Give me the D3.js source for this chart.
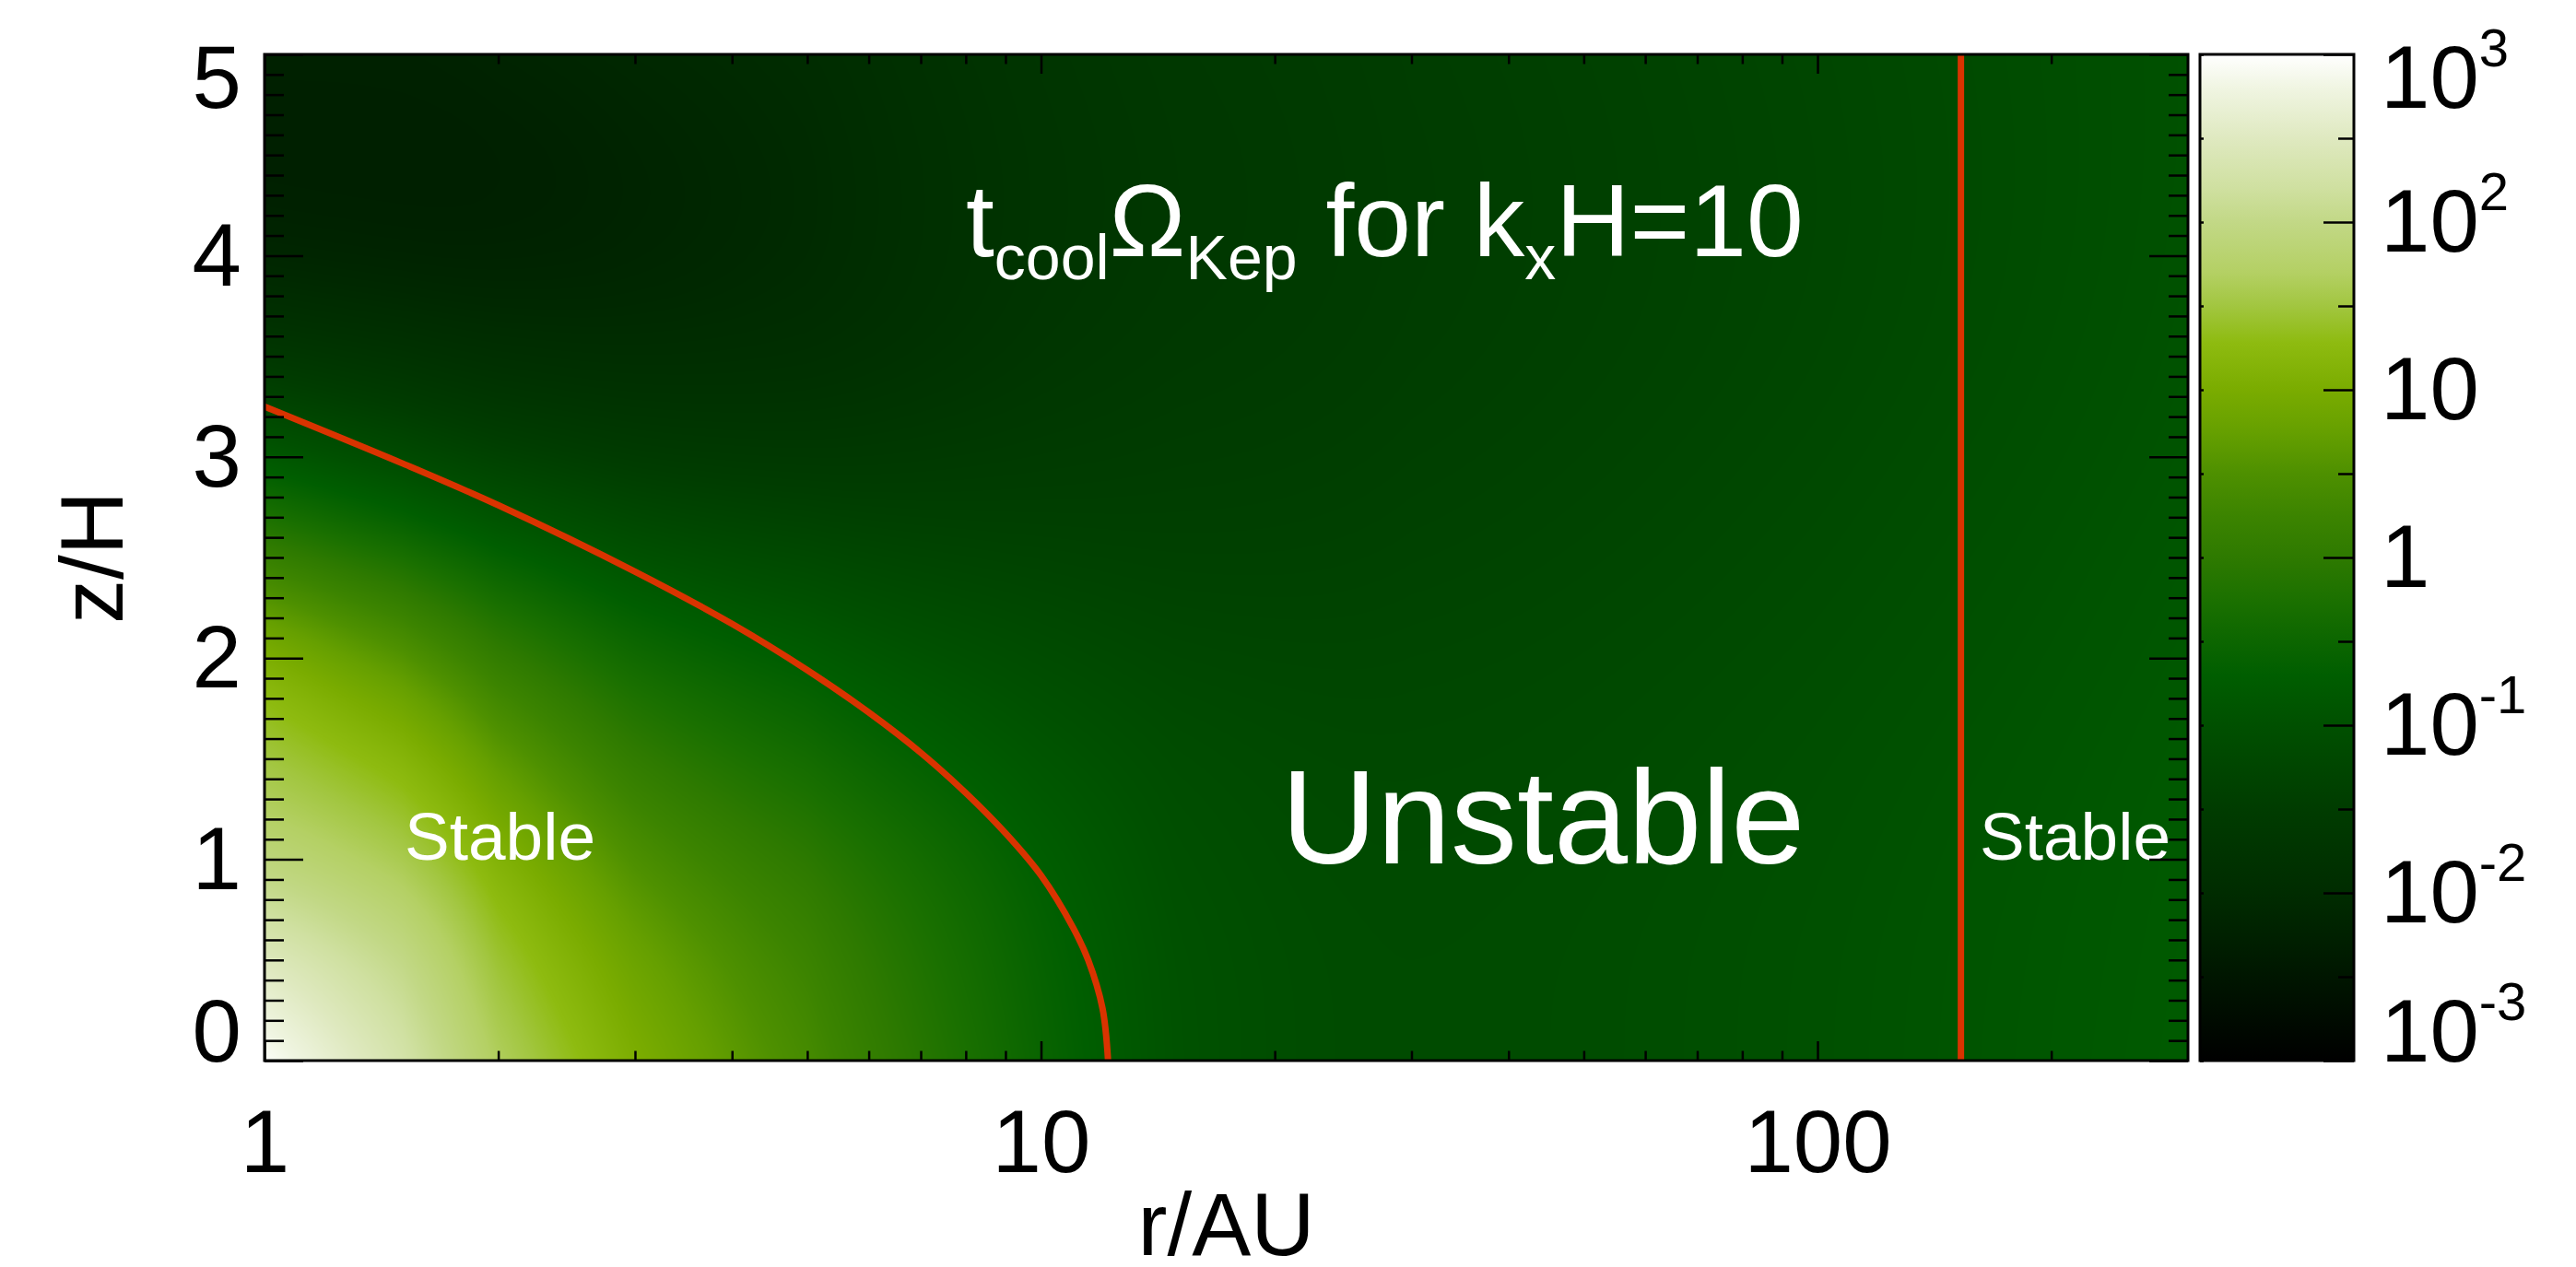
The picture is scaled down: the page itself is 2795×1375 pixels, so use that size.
<!DOCTYPE html>
<html>
<head>
<meta charset="utf-8">
<script src="https://cdn.jsdelivr.net/npm/d3@7"></script>
<style>
  body { margin: 0; background: #fff; }
  svg { display: block; font-family: "Liberation Sans", Arial, Helvetica, sans-serif; }
</style>
</head>
<body>
<div id="chart"></div>
<script>
const WIDTH = 2795, HEIGHT = 1375;
const PLOT = { left: 287, right: 2374, top: 59, bottom: 1151 };
const CBAR = { left: 2387, right: 2554 };

// log10(t_cool * Omega_Kep), rows = z/H, columns = r/AU
const gridR = [1, 1.5, 2, 3, 5, 7, 10, 15, 30, 100, 300];
const gridZ = [0, 0.5, 1, 1.5, 2, 2.5, 3, 3.5, 4, 4.5, 5];
const logTcool = [
  [ 2.95,  2.30,  1.65,  1.05,  0.35, -0.10, -0.55, -1.00, -1.20, -1.00, -0.78],
  [ 2.50,  2.05,  1.45,  0.85,  0.20, -0.20, -0.60, -1.00, -1.20, -1.00, -0.79],
  [ 1.85,  1.60,  1.20,  0.45, -0.05, -0.35, -0.70, -1.05, -1.22, -1.02, -0.80],
  [ 1.50,  1.25,  0.70,  0.00, -0.40, -0.65, -0.90, -1.10, -1.25, -1.05, -0.82],
  [ 1.15,  0.60,  0.10, -0.45, -0.75, -0.95, -1.10, -1.25, -1.30, -1.10, -0.85],
  [ 0.15, -0.30, -0.60, -1.00, -1.20, -1.30, -1.35, -1.40, -1.38, -1.15, -0.88],
  [-0.85, -1.20, -1.40, -1.60, -1.65, -1.60, -1.55, -1.50, -1.45, -1.20, -0.92],
  [-1.70, -1.85, -1.95, -2.00, -1.95, -1.85, -1.70, -1.60, -1.50, -1.25, -0.95],
  [-2.20, -2.25, -2.25, -2.20, -2.05, -1.90, -1.75, -1.65, -1.52, -1.27, -0.97],
  [-2.30, -2.30, -2.30, -2.20, -2.05, -1.90, -1.75, -1.65, -1.52, -1.27, -0.98],
  [-2.25, -2.25, -2.20, -2.10, -2.00, -1.85, -1.72, -1.62, -1.50, -1.25, -0.98]
];

// stability boundary (red curve) and outer boundary (red vertical line)
const boundaryR = [1, 1.5, 2, 3, 4, 5, 6, 7, 8, 9, 10, 11, 11.5, 12, 12.2];
const boundaryZ = [3.25, 2.97, 2.76, 2.43, 2.17, 1.94, 1.73, 1.53, 1.33, 1.13, 0.92, 0.66, 0.50, 0.26, 0];
const outerBoundaryR = 153;

const rTicks = [1, 10, 100];
const rMinor = [2, 3, 4, 5, 6, 7, 8, 9, 20, 30, 40, 50, 60, 70, 80, 90, 200];
const zTicks = [0, 1, 2, 3, 4, 5];
const cbarTicks = [1e3, 1e2, 1e1, 1, 1e-1, 1e-2, 1e-3];
const cbarBase = ['10', '10', '10', '1', '10', '10', '10'];
const cbarExp = ['3', '2', '', '', '-1', '-2', '-3'];

// colour table: log10 value -> colour
const cmapLog = [3, 2.8, 2.5, 2.2, 2.0, 1.7, 1.5, 1.28, 1.0, 0.75, 0.5, 0.25, 0, -0.27, -0.5, -0.7, -1.0, -1.25, -1.5, -2.0, -2.5, -3];
const cmapColor = ['#ffffff', '#f0f5e2', '#dfe9c0', '#cfe0a0', '#c2d886', '#b4d064', '#a2c640', '#8ebb10',
  '#7aac00', '#66a000', '#4e9000', '#3c8400', '#2e7a00', '#1a7000', '#0c6600', '#005e00', '#005000',
  '#004600', '#003c00', '#002c00', '#001600', '#000000'];

const x = d3.scaleLog().domain([1, 300]).range([PLOT.left, PLOT.right]);
const y = d3.scaleLinear().domain([0, 5]).range([PLOT.bottom, PLOT.top]);
const c = d3.scaleLog().domain([1e-3, 1e3]).range([PLOT.bottom, PLOT.top]);
const color = d3.scaleLinear().domain(cmapLog).range(cmapColor).interpolate(d3.interpolateRgb).clamp(true);

const svg = d3.select('#chart').append('svg')
    .attr('width', WIDTH)
    .attr('height', HEIGHT);

svg.append('rect').attr('width', WIDTH).attr('height', HEIGHT).attr('fill', '#fff');

// ---- heat map ----
const W = PLOT.right - PLOT.left, H = PLOT.bottom - PLOT.top;
const canvas = document.createElement('canvas');
canvas.width = W; canvas.height = H;
const ctx = canvas.getContext('2d');
const img = ctx.createImageData(W, H);

const LUT_N = 1200;
const lut = d3.range(LUT_N + 1).map(i => d3.rgb(color(-3 + 6 * i / LUT_N)));
const rIndex = d3.scaleLinear().domain(gridR.map(Math.log10)).range(d3.range(gridR.length)).clamp(true);
const zIndex = d3.scaleLinear().domain(gridZ).range(d3.range(gridZ.length)).clamp(true);
const rowInterp = logTcool.map(row => d3.interpolateBasis(row));

for (let px = 0; px < W; px++) {
    const r = x.invert(PLOT.left + px + 0.5);
    const t = rIndex(Math.log10(r)) / (gridR.length - 1);
    const colInterp = d3.interpolateBasis(rowInterp.map(f => f(t)));
    for (let py = 0; py < H; py++) {
        const z = y.invert(PLOT.top + py + 0.5);
        const v = colInterp(zIndex(z) / (gridZ.length - 1));
        const k = Math.max(0, Math.min(LUT_N, Math.round((v + 3) / 6 * LUT_N)));
        const col = lut[k];
        const o = (py * W + px) * 4;
        img.data[o] = col.r; img.data[o + 1] = col.g; img.data[o + 2] = col.b; img.data[o + 3] = 255;
    }
}
ctx.putImageData(img, 0, 0);

svg.append('image')
    .attr('x', PLOT.left).attr('y', PLOT.top)
    .attr('width', W).attr('height', H)
    .attr('preserveAspectRatio', 'none')
    .attr('href', canvas.toDataURL());

// ---- boundaries ----
svg.append('clipPath').attr('id', 'plotClip')
  .append('rect').attr('x', PLOT.left).attr('y', PLOT.top).attr('width', W).attr('height', H);

const line = d3.line().x(d => x(d[0])).y(d => y(d[1])).curve(d3.curveCatmullRom);
svg.append('path')
    .attr('clip-path', 'url(#plotClip)')
    .attr('d', line(d3.zip(boundaryR, boundaryZ)))
    .attr('fill', 'none')
    .attr('stroke', '#d93300')
    .attr('stroke-width', 7);

svg.append('line')
    .attr('x1', x(outerBoundaryR)).attr('x2', x(outerBoundaryR))
    .attr('y1', y(0)).attr('y2', y(5))
    .attr('stroke', '#d93300')
    .attr('stroke-width', 7);

// ---- text in plot ----
const title = svg.append('text')
    .attr('x', 1048).attr('y', 278)
    .attr('fill', '#fff')
    .attr('font-size', 111);
const titleParts = [['t', 0], ['cool', 1], ['\u03A9', 0], ['Kep', 1], [' for k', 0], ['x', 1], ['H=10', 0]];
let low = false;
titleParts.forEach(([s, sub]) => {
    const ts = title.append('tspan').text(s);
    if (sub) { ts.attr('font-size', 68); if (!low) ts.attr('dy', 25); low = true; }
    else { if (low) ts.attr('dy', -25); low = false; }
});

svg.append('text').attr('x', 439).attr('y', 933).attr('fill', '#fff').attr('font-size', 73).text('Stable');
svg.append('text').attr('x', 2148).attr('y', 933).attr('fill', '#fff').attr('font-size', 73).text('Stable');
svg.append('text').attr('x', 1390).attr('y', 937).attr('fill', '#fff').attr('font-size', 144).text('Unstable');

// ---- axes ----
function styleAxis(g) {
    g.select('.domain').remove();
    g.selectAll('line').attr('stroke', '#000').attr('stroke-width', 2.5);
    g.selectAll('text').attr('font-size', 96).attr('font-family', null).attr('fill', '#000');
}

const zMinor = d3.range(1, 50).filter(i => i % 10 !== 0).map(i => i / 10);

svg.append('g').attr('transform', `translate(0,${PLOT.bottom})`)
    .call(d3.axisBottom(x).tickValues(rTicks).tickFormat(d3.format('d')).tickSize(-21).tickSizeOuter(0).tickPadding(53))
    .call(styleAxis);
svg.append('g').attr('transform', `translate(0,${PLOT.bottom})`)
    .call(d3.axisBottom(x).tickValues(rMinor).tickFormat('').tickSize(-10.5).tickSizeOuter(0))
    .call(styleAxis);
svg.append('g').attr('transform', `translate(0,${PLOT.top})`)
    .call(d3.axisTop(x).tickValues(rTicks).tickFormat('').tickSize(-21).tickSizeOuter(0))
    .call(styleAxis);
svg.append('g').attr('transform', `translate(0,${PLOT.top})`)
    .call(d3.axisTop(x).tickValues(rMinor).tickFormat('').tickSize(-10.5).tickSizeOuter(0))
    .call(styleAxis);

const yAxis = svg.append('g').attr('transform', `translate(${PLOT.left},0)`)
    .call(d3.axisLeft(y).tickValues(zTicks).tickFormat(d3.format('d')).tickSize(-42).tickSizeOuter(0).tickPadding(25))
    .call(styleAxis);
yAxis.selectAll('text').attr('dy', d => d === 0 ? '0.01em' : d === 5 ? '0.6em' : '0.33em');
svg.append('g').attr('transform', `translate(${PLOT.left},0)`)
    .call(d3.axisLeft(y).tickValues(zMinor).tickFormat('').tickSize(-21).tickSizeOuter(0))
    .call(styleAxis);
svg.append('g').attr('transform', `translate(${PLOT.right},0)`)
    .call(d3.axisRight(y).tickValues(zTicks).tickFormat('').tickSize(-42).tickSizeOuter(0))
    .call(styleAxis);
svg.append('g').attr('transform', `translate(${PLOT.right},0)`)
    .call(d3.axisRight(y).tickValues(zMinor).tickFormat('').tickSize(-21).tickSizeOuter(0))
    .call(styleAxis);

svg.append('rect')
    .attr('x', PLOT.left).attr('y', PLOT.top).attr('width', W).attr('height', H)
    .attr('fill', 'none').attr('stroke', '#000').attr('stroke-width', 3);

svg.append('text')
    .attr('x', (PLOT.left + PLOT.right) / 2).attr('y', 1362)
    .attr('text-anchor', 'middle').attr('font-size', 96).text('r/AU');
svg.append('text')
    .attr('transform', `translate(133,${(PLOT.top + PLOT.bottom) / 2}) rotate(-90)`)
    .attr('text-anchor', 'middle').attr('font-size', 96).text('z/H');

// ---- colour bar ----
const grad = svg.append('defs').append('linearGradient')
    .attr('id', 'cbarGrad').attr('x1', 0).attr('y1', 0).attr('x2', 0).attr('y2', 1);
grad.selectAll('stop').data(cmapLog).join('stop')
    .attr('offset', d => (3 - d) / 6)
    .attr('stop-color', (d, i) => cmapColor[i]);

svg.append('rect')
    .attr('x', CBAR.left).attr('y', PLOT.top)
    .attr('width', CBAR.right - CBAR.left).attr('height', H)
    .attr('fill', 'url(#cbarGrad)')
    .attr('stroke', '#000').attr('stroke-width', 3);

const cbarMinor = d3.range(-3, 3).map(k => Math.pow(10, k + 0.5));
svg.append('g').attr('transform', `translate(${CBAR.right},0)`)
    .call(d3.axisRight(c).tickValues(cbarTicks).tickFormat('').tickSize(-33).tickSizeOuter(0))
    .call(styleAxis);
svg.append('g').attr('transform', `translate(${CBAR.right},0)`)
    .call(d3.axisRight(c).tickValues(cbarMinor).tickFormat('').tickSize(-17).tickSizeOuter(0))
    .call(styleAxis);
svg.append('g').attr('transform', `translate(${CBAR.left},0)`)
    .call(d3.axisLeft(c).tickValues(cbarTicks.concat(cbarMinor)).tickFormat('').tickSize(-4).tickSizeOuter(0))
    .call(styleAxis);

const cbarText = svg.append('g').selectAll('text').data(cbarTicks).join('text')
    .attr('x', 2583)
    .attr('y', (d, i) => c(d) + (i === 0 ? 58 : i === cbarTicks.length - 1 ? 1 : 32))
    .attr('font-size', 96);
cbarText.append('tspan').text((d, i) => cbarBase[i]);
cbarText.append('tspan')
    .attr('font-size', 58).attr('dy', -45)
    .text((d, i) => cbarExp[i]);
</script>
</body>
</html>
